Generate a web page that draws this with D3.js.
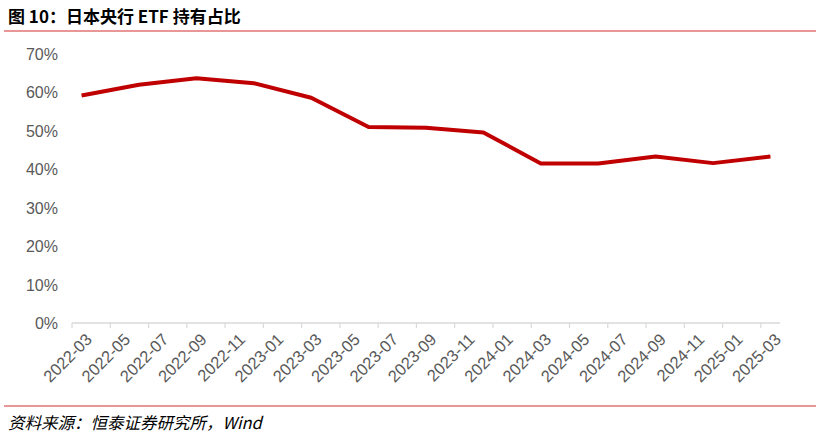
<!DOCTYPE html><html><head><meta charset="utf-8"><script src="https://cdn.jsdelivr.net/npm/d3@7"></script>
<style>body{margin:0;background:#fff}svg{display:block}</style></head><body><svg id="c" width="820" height="437"></svg><script>
const months=[];for(let y=2022;y<=2025;y++)for(let m=1;m<=12;m++){const k=y*100+m;if(k>=202203&&k<=202503)months.push(y+"-"+String(m).padStart(2,"0"));}
const dates=["2022-03","2022-06","2022-09","2022-12","2023-03","2023-06","2023-09","2023-12","2024-03","2024-06","2024-09","2024-12","2025-03"];
const values=[59.2,62.0,63.7,62.4,58.6,51.0,50.8,49.6,41.5,41.5,43.3,41.6,43.3];
const yTicks=[0,10,20,30,40,50,60,70];
const svg=d3.select("#c");
svg.append("text").attr("x",8).attr("y",23).attr("font-family","Noto Sans CJK SC").attr("font-weight","bold").attr("font-size",17).attr("fill","#000").text("图 10：日本央行 ETF 持有占比");
svg.append("line").attr("x1",4).attr("x2",816).attr("y1",31).attr("y2",31).attr("stroke","#d32f2f").attr("stroke-width",1.2);
svg.append("line").attr("x1",4).attr("x2",816).attr("y1",406).attr("y2",406).attr("stroke","#d32f2f").attr("stroke-width",1.2);
svg.append("text").attr("x",8).attr("y",429).attr("font-family","Noto Sans CJK SC").attr("font-style","italic").attr("font-size",16.5).attr("fill","#000").text("资料来源：恒泰证券研究所，Wind");
const x=d3.scaleBand().domain(months).range([72,780]);
const y=d3.scaleLinear().domain([0,70]).range([323,54]);
svg.append("line").attr("x1",72).attr("x2",780).attr("y1",323).attr("y2",323).attr("stroke","#d9d9d9").attr("stroke-width",1.5);
months.forEach((m,i)=>{if(i%2==0){svg.append("line").attr("x1",x(m)).attr("x2",x(m)).attr("y1",323).attr("y2",328).attr("stroke","#d9d9d9").attr("stroke-width",1.2);
svg.append("text").attr("transform",`translate(${x(m)+x.bandwidth()/2+3},${332}) rotate(-45)`).attr("text-anchor","end").attr("dominant-baseline","hanging").attr("font-family","Liberation Sans, Arial").attr("font-size",16.5).attr("fill","#595959").text(m);}});
svg.selectAll(".yt").data(yTicks).enter().append("text").attr("x",58).attr("y",d=>y(d)+6).attr("text-anchor","end").attr("font-family","Liberation Sans, Arial").attr("font-size",16).attr("fill","#595959").text(d=>d+"%");
const line=d3.line().x((d,i)=>x(dates[i])+x.bandwidth()/2).y(d=>y(d));
svg.append("path").attr("d",line(values)).attr("fill","none").attr("stroke","#c00000").attr("stroke-width",4).attr("stroke-linejoin","round");
</script></body></html>
